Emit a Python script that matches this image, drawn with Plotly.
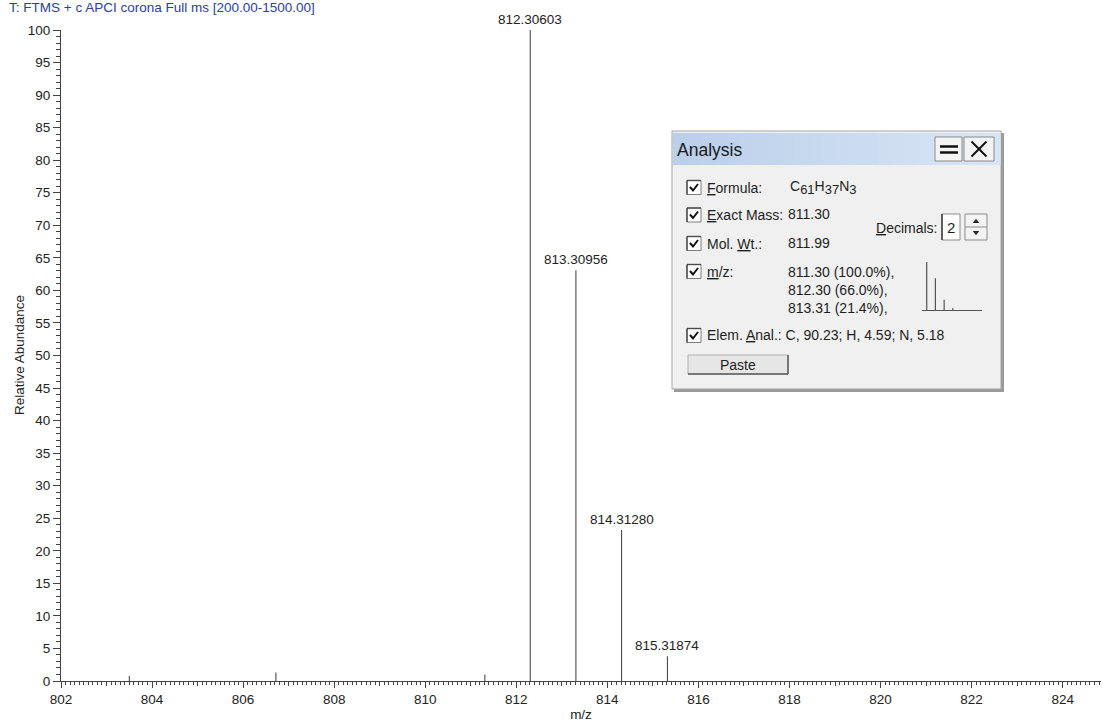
import plotly.graph_objects as go

# ---- spectrum data -------------------------------------------------------
peak_mz = [803.50, 806.72, 811.31, 812.30603, 813.30956, 814.31280, 815.31874]
peak_abund = [0.8, 1.3, 1.0, 100.0, 63.1, 23.2, 3.8]

# centroid peaks that carry an m/z label
labeled_mz = [812.30603, 813.30956, 814.31280, 815.31874]
labeled_abund = [100.0, 63.1, 23.2, 3.8]

# theoretical isotope pattern for C61H37N3
iso_mz = [811.30, 812.30, 813.31, 814.31]
iso_abund = [100.0, 66.0, 21.4, 4.4]

x_label_ticks = list(range(802, 825, 2))
x_odd_ticks = list(range(803, 825, 2))
y_ticks = list(range(0, 101, 5))

title_text = "T: FTMS + c APCI corona Full ms [200.00-1500.00]"

# ---- geometry -------------------------------------------------------------
W, H = 1103, 722
ML, MR, MT, MB = 61, 2, 30, 41
PW, PH = W - ML - MR, H - MT - MB
X_RANGE = [802, 802 + PW / 45.53]


def px(x):
    """pixel column -> paper x"""
    return (x - ML) / PW


def py(y):
    """pixel row -> paper y"""
    return (H - MB - y) / PH


def sticks(xs, ys):
    sx, sy = [], []
    for x, y in zip(xs, ys):
        sx += [x, x, None]
        sy += [0, y, None]
    return sx, sy


FONT = "Liberation Sans, Arial, sans-serif"

fig = go.Figure()

sx, sy = sticks(peak_mz, peak_abund)
fig.add_trace(go.Scatter(x=sx, y=sy, mode="lines",
                         line=dict(color="#3a3a3a", width=1),
                         hoverinfo="skip", showlegend=False))

# isotope pattern preview inside the Analysis panel
ix, iy = sticks(iso_mz, iso_abund)
fig.add_trace(go.Scatter(x=ix, y=iy, mode="lines", xaxis="x2", yaxis="y2",
                         line=dict(color="#555555", width=1.2),
                         hoverinfo="skip", showlegend=False))

# invisible helper trace so the odd-integer tick axis is drawn
fig.add_trace(go.Scatter(x=[X_RANGE[0]], y=[0], xaxis="x3", yaxis="y",
                         mode="markers", marker=dict(opacity=0),
                         hoverinfo="skip", showlegend=False))

annotations = []
for mz, ab in zip(labeled_mz, labeled_abund):
    annotations.append(dict(x=mz, y=ab, xref="x", yref="y", text=f"{mz:.5f}",
                            showarrow=False, yanchor="bottom", yshift=1,
                            font=dict(family=FONT, size=13.5, color="#222222")))

annotations.append(dict(x=px(7), y=py(7.5), xref="paper", yref="paper",
                        text=title_text, showarrow=False, xanchor="left",
                        yanchor="middle",
                        font=dict(family=FONT, size=13.5, color="#2c3e9e")))
annotations.append(dict(x=px(19), y=py(355), xref="paper", yref="paper",
                        text="Relative Abundance", showarrow=False,
                        textangle=-90, xanchor="center", yanchor="middle",
                        font=dict(family=FONT, size=13.5, color="#222222")))

# ---- Analysis panel -------------------------------------------------------
shapes = []


def rect(x0, y0, x1, y1, fill, line=None, width=1):
    shapes.append(dict(type="rect", xref="paper", yref="paper", layer="below",
                       x0=px(x0), x1=px(x1), y0=py(y1), y1=py(y0),
                       fillcolor=fill,
                       line=dict(color=line or fill, width=width if line else 0)))


def seg(x0, y0, x1, y1, color, width=1):
    shapes.append(dict(type="line", xref="paper", yref="paper", layer="below",
                       x0=px(x0), x1=px(x1), y0=py(y0), y1=py(y1),
                       line=dict(color=color, width=width)))


def path(points, color, width=1.5, fill=None):
    d = "M " + " L ".join(f"{px(a)},{py(b)}" for a, b in points)
    if fill:
        d += " Z"
    shapes.append(dict(type="path", xref="paper", yref="paper", layer="below",
                       path=d, fillcolor=fill or "rgba(0,0,0,0)",
                       line=dict(color=color, width=width)))


def text(x, y, s, size=14, anchor="left", color="#1e1e1e"):
    annotations.append(dict(x=px(x), y=py(y), xref="paper", yref="paper",
                            text=s, showarrow=False, xanchor=anchor,
                            yanchor="middle", borderpad=0,
                            font=dict(family=FONT, size=size, color=color)))


# window frame + shadow
rect(674, 133, 1004, 392, "#9a9a9a")
rect(672, 131, 1001, 389, "#f0f0f0", "#a5a5a5", 1)

# title bar gradient
n = 24
x_start, x_end = 673, 1000
c0, c1 = (186, 207, 234), (216, 229, 244)
for i in range(n):
    t = i / (n - 1)
    col = tuple(round(a + (b - a) * t) for a, b in zip(c0, c1))
    xa = x_start + (x_end - x_start) * i / n
    xb = x_start + (x_end - x_start) * (i + 1) / n + 0.6
    rect(xa, 133, xb, 165, "rgb(%d,%d,%d)" % col)
text(676, 150, "Analysis", size=17.5, color="#1a1a1a")

# title bar buttons
rect(935, 137, 962, 161, "#f4f4f4", "#8a8a8a", 1)
seg(940, 146.5, 958, 146.5, "#111111", 2.5)
seg(940, 152.5, 958, 152.5, "#111111", 2.5)
rect(964, 137, 994, 161, "#f4f4f4", "#8a8a8a", 1)
path([(971.5, 141.5), (986.5, 156.5)], "#111111", 2)
path([(986.5, 141.5), (971.5, 156.5)], "#111111", 2)

# check boxes and labels
rows = [
    (187.5, "<u>F</u>ormula:"),
    (215.0, "<u>E</u>xact Mass:"),
    (243.5, "Mol. <u>W</u>t.:"),
    (271.5, "<u>m</u>/z:"),
    (335.5, "Elem. <u>A</u>nal.: C, 90.23; H, 4.59; N, 5.18"),
]
for yc, label in rows:
    rect(687, yc - 7, 701, yc + 7, "#ffffff", "#7c7c7c", 1)
    seg(687, yc - 7, 701, yc - 7, "#4a4a4a", 1.4)
    seg(687, yc - 7, 687, yc + 7, "#4a4a4a", 1.4)
    path([(690, yc - 0.5), (693, yc + 3), (698, yc - 3.5)], "#111111", 2)
    text(706, yc, label)

sub = "<sub><span style='font-size:13px'>%s</span></sub>"
text(789, 187, "C" + sub % "61" + "H" + sub % "37" + "N" + sub % "3")
text(787, 214, "811.30")
text(787, 242.5, "811.99")
text(787, 271.5, "811.30 (100.0%),")
text(787, 290, "812.30 (66.0%),")
text(787, 308, "813.31 (21.4%),")

# decimals spinner
text(938, 228, "<u>D</u>ecimals:", anchor="right")
rect(942, 214, 960, 240, "#ffffff", "#8a8a8a", 1)
seg(942, 214, 942, 240, "#333333", 1.4)
text(951, 227.5, "2", size=15, anchor="center")
rect(965, 214, 987, 240, "#f4f4f4", "#8a8a8a", 1)
seg(965, 227, 987, 227, "#8a8a8a", 1)
path([(973.5, 222.5), (976, 219.5), (978.5, 222.5)], "#222222", 1, "#222222")
path([(973.5, 231.5), (976, 234.5), (978.5, 231.5)], "#222222", 1, "#222222")

# Paste button
rect(688, 355, 788, 374, "#e6e6e6", "#b0b0b0", 1)
seg(688, 374, 788, 374, "#5a5a5a", 1.5)
seg(788, 355, 788, 374, "#5a5a5a", 1.5)
text(738, 364.5, "Paste", anchor="center")

# ---- layout ---------------------------------------------------------------
tick_font = dict(family=FONT, size=13.5, color="#222222")

fig.update_layout(
    width=W, height=H,
    margin=dict(l=ML, r=MR, t=MT, b=MB, autoexpand=False),
    paper_bgcolor="white",
    plot_bgcolor="rgba(0,0,0,0)",
    showlegend=False,
    xaxis=dict(
        range=X_RANGE, tickmode="array", tickvals=x_label_ticks,
        ticks="outside", ticklen=6, tickwidth=1, tickcolor="#444444",
        showline=True, linecolor="#444444", linewidth=1,
        showgrid=False, zeroline=False, tickfont=tick_font,
        minor=dict(tickmode="linear", tick0=802, dtick=0.1, ticks="outside",
                   ticklen=2.5, tickcolor="#444444", showgrid=False),
        title=dict(text="m/z", font=tick_font, standoff=3),
        automargin=False,
    ),
    xaxis3=dict(
        range=X_RANGE, overlaying="x", anchor="y", side="bottom",
        tickmode="array", tickvals=x_odd_ticks, showticklabels=False,
        ticks="outside", ticklen=4, tickwidth=1, tickcolor="#444444",
        showline=False, showgrid=False, zeroline=False, automargin=False,
    ),
    yaxis=dict(
        range=[0, 100], tickmode="array", tickvals=y_ticks,
        ticks="outside", ticklen=7, tickwidth=1, tickcolor="#444444",
        showline=True, linecolor="#444444", linewidth=1,
        showgrid=False, zeroline=False, tickfont=tick_font,
        minor=dict(tickmode="linear", tick0=0, dtick=1, ticks="outside",
                   ticklen=4, tickcolor="#444444", showgrid=False),
        automargin=False,
    ),
    xaxis2=dict(
        domain=[px(921.7), px(982.3)], anchor="y2",
        range=[810.72, 810.72 + 60.6 / 8.67],
        showline=True, linecolor="#555555", linewidth=1.2,
        showticklabels=False, ticks="", showgrid=False, zeroline=False,
    ),
    yaxis2=dict(
        domain=[py(310), py(262)], anchor="x2", range=[0, 100],
        visible=False, showgrid=False, zeroline=False,
    ),
    shapes=shapes,
    annotations=annotations,
)

fig.write_html("out.html")
